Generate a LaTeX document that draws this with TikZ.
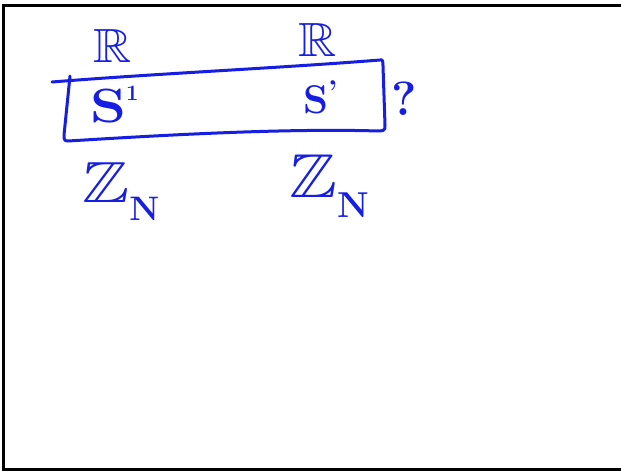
\documentclass[tikz,border=0pt]{standalone}
\usepackage{amssymb}
\DeclareFontFamily{U}{msb}{}
\DeclareFontShape{U}{msb}{m}{n}{<-> msbm10}{}
\definecolor{ink}{RGB}{22,30,228}
\newcommand{\fs}[1]{\fontsize{#1}{#1}\selectfont}
\tikzset{
  pen/.style={draw=ink, line width=3pt, line cap=round, line join=round},
  frame/.style={draw=black, line width=3pt},
  hw/.style={text=ink, inner sep=0pt, anchor=base west},
}
\begin{document}
\begin{tikzpicture}[x=1pt,y=-1pt]
\useasboundingbox (0,0) rectangle (621,471);
\fill[white] (0,0) rectangle (621,471);
% frame (no right edge visible)
\draw[frame] (623,5.5) -- (3.5,5.5) -- (3.5,469) -- (623,469);
% hand-drawn box
\coordinate (tl0) at (52,82);
\coordinate (tr) at (380,60);
\coordinate (lt) at (70,76);
\draw[pen] (tl0) .. controls (150,74) and (280,68) .. (tr)
  .. controls (383,59) and (383,62) .. (383,66)
  -- (385,125) .. controls (386,131) and (382,131) .. (378,131)
  .. controls (280,128) and (150,136) .. (68,141)
  .. controls (64,141) and (64,139) .. (64,135)
  -- (lt);
% labels
\node[hw, font=\fs{48}] (R1) at (93,62) {\scalebox{1.1}[1]{$\mathbb{R}$}};
\node[hw, font=\fs{48}] (R2) at (298,56) {\scalebox{1.1}[1]{$\mathbb{R}$}};
\node[hw, font=\fs{48}\bfseries] (S1) at (90,122) {\scalebox{1.2}[1]{S}\raisebox{22pt}{\fs{22}\bfseries 1}};
\node[hw, font=\fs{40}\bfseries] (S2) at (303,113) {S\raisebox{12pt}{\fs{30}\bfseries '}};
\node[hw, font=\fs{48}\bfseries] (q) at (391,115) {?};
\node[hw, font=\fs{58}] (Z1) at (82,202) {\scalebox{1.22}[1]{$\mathbb{Z}$}\raisebox{-18pt}{\fs{34}\bfseries N}};
\node[hw, font=\fs{62}] (Z2) at (289,197) {\scalebox{1.16}[1]{$\mathbb{Z}$}\raisebox{-20pt}{\fs{36}\bfseries N}};
\end{tikzpicture}
\end{document}
